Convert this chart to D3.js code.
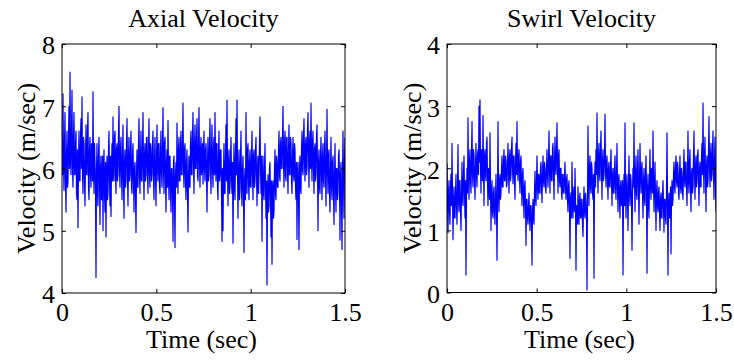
<!DOCTYPE html>
<html>
<head>
<meta charset="utf-8">
<script src="https://cdn.jsdelivr.net/npm/d3@7"></script>
<style>
	body { margin: 0; background: #fff; }
	svg text { font-family: 'Liberation Serif', 'Times New Roman', serif; fill: #000; }
</style>
</head>
<body>
<div id="chart"></div>
<script>
// time axis (sec) and tick labels
const timeSpan = [0, 1.5];
const timeTicks = [0, 0.5, 1, 1.5];
const axialTicks = [4, 5, 6, 7, 8];
const swirlTicks = [0, 1, 2, 3, 4];

// axial velocity samples (m/sec) left to right
const axialVelocity = [
	6.3, 5.9, 7.2, 6.1, 5.65, 6.4, 6.9, 5.8, 5.3, 6.2, 6.6, 5.7, 5.8, 6.5, 7.0, 6.0, 7.55, 6.2, 5.9, 6.6,
	7.26, 6.0, 5.7, 6.5, 6.9, 5.9, 5.9, 6.4, 6.6, 5.6, 5.5, 6.3, 5.05, 6.1, 6.6, 5.8, 5.8, 6.5, 6.8, 6.0,
	7.15, 5.9, 5.6, 6.5, 6.4, 5.8, 5.4, 6.2, 6.7, 5.9, 5.9, 6.6, 6.9, 5.7, 5.5, 6.3, 6.5, 5.9, 5.7, 6.4,
	6.3, 5.8, 7.23, 6.0, 5.6, 6.4, 6.1, 5.7, 4.25, 6.0, 6.4, 5.6, 5.4, 6.2, 6.5, 5.8, 5.1, 6.0, 6.2, 5.5,
	5.5, 6.2, 5.0, 6.0, 6.3, 5.6, 5.3, 6.1, 4.9, 5.9, 6.2, 5.5, 5.6, 6.3, 6.6, 5.8, 5.4, 6.2, 5.23, 6.0,
	6.4, 5.8, 6.83, 6.0, 5.8, 6.5, 6.6, 5.9, 5.6, 6.3, 6.4, 5.8, 5.9, 6.6, 7.0, 6.0, 5.7, 6.3, 6.5, 5.9,
	5.5, 6.2, 6.7, 5.8, 5.2, 6.1, 6.3, 5.7, 5.8, 6.4, 6.8, 5.9, 5.4, 6.2, 6.5, 5.8, 5.9, 6.3, 6.6, 5.7,
	5.6, 6.2, 6.4, 5.8, 5.3, 6.0, 6.1, 5.6, 4.97, 5.9, 6.3, 5.7, 5.7, 6.4, 6.8, 5.9, 5.6, 6.2, 6.6, 5.8,
	5.8, 6.3, 6.9, 6.0, 5.5, 6.2, 6.4, 5.8, 5.9, 6.5, 6.5, 5.9, 5.6, 6.3, 6.8, 5.9, 5.7, 6.4, 6.3, 5.8,
	5.9, 6.4, 6.6, 5.8, 5.5, 6.2, 6.5, 5.9, 5.4, 6.1, 6.7, 6.0, 5.8, 6.4, 6.4, 5.7, 5.6, 6.3, 6.6, 5.9,
	5.7, 6.3, 6.98, 6.0, 5.6, 6.4, 6.5, 5.8, 5.3, 6.1, 6.3, 5.7, 6.77, 5.9, 5.5, 6.2, 6.2, 5.6, 5.3, 6.0,
	6.0, 5.6, 4.83, 6.1, 6.2, 5.5, 4.73, 5.9, 6.1, 5.7, 6.73, 6.0, 5.6, 6.3, 6.5, 5.8, 5.8, 6.4, 6.6, 5.9,
	5.9, 6.4, 7.05, 6.0, 5.7, 6.3, 6.4, 5.8, 5.5, 6.1, 6.3, 5.6, 4.98, 5.9, 6.2, 5.7, 5.7, 6.4, 6.6, 5.9,
	5.9, 6.5, 6.9, 6.1, 5.6, 6.4, 6.7, 6.0, 6.0, 6.5, 6.8, 5.9, 5.8, 6.4, 6.98, 6.1, 5.7, 6.3, 6.5, 5.9,
	6.0, 6.4, 5.75, 6.3, 6.6, 6.0, 5.8, 6.3, 6.4, 5.9, 5.3, 6.1, 6.5, 5.8, 5.9, 6.4, 6.8, 6.0, 5.6, 6.3,
	6.7, 6.0, 5.7, 6.3, 6.5, 5.9, 6.9, 6.1, 5.8, 6.4, 6.4, 5.7, 5.5, 6.2, 6.6, 5.8, 5.9, 6.3, 6.3, 5.6,
	4.83, 6.0, 5.0, 5.9, 6.4, 5.6, 5.6, 6.2, 6.7, 5.8, 7.1, 6.0, 5.4, 6.1, 6.3, 5.6, 5.7, 6.2, 6.5, 5.8,
	5.6, 6.1, 4.8, 5.8, 6.4, 5.7, 5.5, 6.2, 6.8, 5.9, 7.1, 6.0, 5.2, 5.9, 6.3, 5.5, 5.7, 6.2, 6.6, 5.6,
	5.4, 6.0, 6.2, 5.6, 4.65, 5.8, 6.0, 5.5, 6.9, 5.9, 5.6, 6.3, 6.4, 5.8, 5.5, 6.1, 6.3, 5.7, 5.7, 6.2,
	6.6, 5.9, 5.5, 6.2, 6.3, 5.7, 5.8, 6.3, 6.5, 5.9, 5.4, 6.0, 6.2, 5.6, 5.9, 6.4, 6.83, 6.0, 5.6, 6.2,
	4.83, 5.9, 6.2, 5.6, 5.5, 6.0, 6.4, 5.7, 5.2, 5.8, 4.13, 5.6, 5.9, 5.3, 5.4, 6.0, 6.1, 5.5, 4.9, 5.8,
	4.46, 5.7, 5.8, 5.2, 5.3, 6.0, 6.3, 5.6, 5.5, 6.2, 6.1, 5.7, 5.7, 6.3, 6.6, 5.9, 5.8, 6.4, 6.5, 6.0,
	6.0, 6.5, 7.0, 6.1, 5.7, 6.4, 6.6, 5.9, 5.8, 6.5, 6.5, 6.0, 5.6, 6.3, 6.7, 5.9, 5.9, 6.5, 6.4, 5.8,
	5.6, 6.2, 6.5, 5.9, 5.8, 6.4, 6.3, 5.7, 5.5, 6.1, 4.86, 5.9, 6.1, 5.6, 4.7, 6.0, 6.2, 5.7, 5.6, 6.3,
	6.6, 6.0, 5.9, 6.5, 6.8, 6.1, 5.8, 6.4, 6.5, 5.9, 6.0, 6.6, 6.9, 6.2, 5.7, 6.4, 6.6, 6.0, 7.05, 6.2,
	5.8, 6.4, 6.6, 6.0, 5.6, 6.3, 6.4, 5.8, 5.9, 6.5, 6.7, 6.0, 5.0, 6.1, 6.3, 5.7, 5.6, 6.2, 6.5, 5.9,
	5.5, 6.2, 6.4, 5.8, 5.7, 6.3, 6.6, 5.9, 5.4, 6.1, 6.95, 6.0, 5.6, 6.2, 6.3, 5.6, 5.3, 6.0, 6.5, 5.7,
	5.5, 6.1, 6.2, 5.6, 5.1, 5.9, 6.4, 5.7, 5.3, 6.0, 6.0, 5.5, 5.6, 6.2, 6.3, 5.8, 4.85, 5.9, 6.1, 5.5,
	4.7, 5.9, 6.6, 5.8, 5.2, 6.1, 6.5,
];

// swirl velocity samples (m/sec)
const swirlVelocity = [
	2.08, 1.5, 0.96, 1.6, 1.8, 1.3, 1.1, 1.7, 1.9, 1.4, 2.4, 1.6, 0.85, 1.4, 1.7, 1.2, 1.2, 1.6, 1.9, 1.4,
	1.1, 1.6, 2.38, 1.5, 1.3, 1.8, 1.8, 1.3, 1.0, 1.6, 2.1, 1.5, 1.4, 1.9, 2.2, 1.6, 1.2, 1.8, 0.28, 1.6,
	2.0, 1.6, 2.81, 1.9, 1.5, 2.1, 2.3, 1.8, 1.6, 2.2, 2.75, 1.9, 1.7, 2.3, 2.2, 1.8, 1.5, 2.0, 2.4, 1.9,
	1.7, 2.2, 2.3, 1.9, 3.0, 2.1, 3.1, 2.0, 1.6, 2.3, 2.2, 1.8, 2.85, 2.0, 1.4, 2.2, 2.3, 1.9, 1.8, 2.4,
	2.5, 1.8, 1.4, 2.0, 1.9, 1.5, 2.57, 1.7, 1.0, 1.6, 1.8, 1.3, 1.2, 1.6, 1.7, 1.3, 1.1, 1.5, 1.9, 1.4,
	0.52, 1.5, 2.75, 1.6, 1.3, 1.8, 1.9, 1.5, 1.6, 2.0, 2.2, 1.7, 1.7, 2.1, 2.3, 1.8, 1.8, 2.2, 2.1, 1.7,
	1.75, 2.1, 2.4, 1.9, 1.6, 2.2, 2.3, 1.8, 1.9, 2.3, 2.5, 2.0, 1.75, 2.2, 2.2, 1.8, 1.5, 2.1, 2.4, 1.9,
	2.75, 2.0, 1.8, 2.2, 2.3, 1.9, 1.6, 2.1, 2.2, 1.7, 1.4, 1.9, 2.0, 1.5, 1.2, 1.7, 1.8, 1.4, 0.76, 1.5,
	1.5, 1.2, 1.1, 1.4, 1.6, 1.2, 1.0, 1.4, 1.4, 1.1, 0.44, 1.3, 1.5, 1.2, 1.1, 1.6, 1.95, 1.5, 1.4, 1.8,
	2.2, 1.7, 1.5, 1.9, 1.9, 1.6, 1.6, 2.0, 2.1, 1.7, 1.45, 1.9, 2.2, 1.8, 1.7, 2.1, 2.0, 1.7, 1.6, 2.0,
	2.3, 1.9, 1.7, 2.1, 2.6, 2.0, 1.6, 2.2, 2.2, 1.8, 1.8, 2.3, 2.4, 1.9, 1.5, 2.1, 2.5, 2.0, 1.9, 2.3,
	2.73, 2.0, 1.6, 2.2, 2.3, 1.8, 1.7, 2.0, 2.0, 1.6, 1.5, 1.9, 1.9, 1.6, 1.6, 1.9, 2.1, 1.7, 1.5, 1.8,
	1.9, 1.5, 1.3, 1.7, 1.8, 1.4, 0.55, 1.5, 1.6, 1.2, 2.1, 1.5, 1.2, 1.6, 1.7, 1.3, 2.0, 1.5, 0.36, 1.4,
	1.4, 1.1, 1.7, 1.3, 1.1, 1.5, 1.6, 1.2, 1.2, 1.5, 1.5, 1.1, 0.9, 1.4, 1.7, 1.3, 1.2, 1.6, 1.5, 1.2,
	0.04, 1.5, 2.68, 1.8, 1.4, 2.0, 2.2, 1.7, 1.6, 2.1, 2.0, 1.6, 1.5, 1.9, 0.23, 1.8, 2.1, 1.7, 2.3, 1.9,
	2.89, 2.0, 1.6, 2.2, 2.4, 1.9, 1.8, 2.3, 2.6, 2.0, 1.5, 2.1, 2.3, 1.8, 1.9, 2.2, 2.87, 2.0, 1.7, 2.1,
	2.2, 1.8, 1.5, 2.0, 2.1, 1.7, 1.7, 2.0, 2.3, 1.8, 1.4, 1.9, 2.0, 1.6, 1.6, 2.0, 2.2, 1.7, 1.5, 1.9,
	2.4, 1.7, 1.3, 1.8, 1.9, 1.5, 1.2, 1.7, 1.8, 1.4, 1.5, 1.8, 0.28, 1.5, 1.9, 1.4, 2.73, 1.6, 1.2, 1.7,
	1.9, 1.5, 1.0, 1.7, 2.2, 1.6, 1.4, 1.9, 1.8, 1.5, 0.68, 1.6, 2.0, 1.7, 2.73, 1.8, 1.3, 1.9, 2.2, 1.6,
	1.5, 2.0, 2.3, 1.7, 1.1, 1.8, 2.4, 1.9, 1.6, 2.0, 2.1, 1.6, 1.2, 1.8, 2.0, 1.5, 1.4, 1.9, 2.2, 1.7,
	0.31, 1.6, 1.9, 1.4, 1.2, 1.8, 2.3, 1.7, 1.5, 2.0, 2.0, 1.6, 2.6, 1.8, 1.3, 1.7, 2.1, 1.5, 1.0, 1.6,
	1.8, 1.4, 1.3, 1.6, 1.7, 1.3, 1.0, 1.5, 1.6, 1.2, 1.2, 1.6, 1.8, 1.4, 0.97, 1.5, 1.5, 1.2, 1.1, 1.6,
	2.57, 1.5, 0.28, 1.4, 1.6, 1.2, 1.2, 1.7, 0.62, 1.5, 1.8, 1.4, 1.5, 1.9, 2.1, 1.7, 1.6, 2.0, 2.2, 1.8,
	1.7, 2.1, 2.0, 1.6, 1.5, 1.9, 2.2, 1.7, 1.6, 2.0, 1.9, 1.6, 1.5, 2.0, 2.3, 1.8, 1.7, 2.1, 2.1, 1.7,
	1.4, 1.9, 2.6, 1.8, 1.6, 2.1, 2.3, 1.7, 1.3, 1.9, 2.0, 1.6, 1.7, 2.2, 2.6, 1.9, 1.5, 2.0, 2.2, 1.7,
	1.8, 2.2, 2.3, 1.8, 1.4, 2.0, 2.1, 1.7, 1.7, 2.2, 2.4, 1.9, 3.05, 2.0, 1.6, 2.2, 2.5, 1.9, 1.3, 2.0,
	2.2, 1.7, 1.8, 2.3, 2.83, 2.0, 1.7, 2.2, 2.4, 1.8, 1.9, 2.3, 2.6, 1.9, 1.5, 2.1, 2.5, 1.8, 1.3,
];

const width = 734;
const height = 361;

const svg = d3
	.select('#chart')
	.append('svg')
	.attr('width', width)
	.attr('height', height)
	.attr('font-family', "'Liberation Serif', 'Times New Roman', serif");

class VelocityPlot {
	constructor(_config) {
		this.config = {
			title: _config.title,
			values: _config.values,
			yTicks: _config.yTicks,
			box: _config.box,
			yLabelX: _config.yLabelX,
			tickLength: _config.tickLength || 4,
			fontSize: _config.fontSize || 26,
		};
		this.initVis();
	}

	initVis() {
		const { box, values, yTicks, tickLength, fontSize } = this.config;
		const id = this.config.title.replace(/\s/g, '');

		this.x = d3.scaleLinear().domain(timeSpan).range([box.left, box.right]);
		this.y = d3
			.scaleLinear()
			.domain(d3.extent(yTicks))
			.range([box.bottom, box.top]);

		const dt = (timeSpan[1] - timeSpan[0]) / (values.length - 1);

		svg
			.append('clipPath')
			.attr('id', 'clip-' + id)
			.append('rect')
			.attr('x', box.left)
			.attr('y', box.top)
			.attr('width', box.right - box.left)
			.attr('height', box.bottom - box.top);

		svg
			.append('path')
			.datum(values)
			.attr('clip-path', `url(#clip-${id})`)
			.attr('fill', 'none')
			.attr('stroke', '#0000ff')
			.attr('stroke-width', 1.2)
			.attr('stroke-linejoin', 'round')
			.attr(
				'd',
				d3
					.line()
					.x((d, i) => this.x(timeSpan[0] + i * dt))
					.y((d) => this.y(d))
			);

		// ticks point inward on all four sides, like the matlab box
		const bottomAxis = d3
			.axisBottom(this.x)
			.tickValues(timeTicks)
			.tickFormat(d3.format('~g'))
			.tickSizeInner(-tickLength)
			.tickSizeOuter(0)
			.tickPadding(10);
		const topAxis = d3
			.axisTop(this.x)
			.tickValues(timeTicks)
			.tickFormat('')
			.tickSizeInner(-tickLength)
			.tickSizeOuter(0);
		const leftAxis = d3
			.axisLeft(this.y)
			.tickValues(yTicks)
			.tickFormat(d3.format('~g'))
			.tickSizeInner(-tickLength)
			.tickSizeOuter(0)
			.tickPadding(7);
		const rightAxis = d3
			.axisRight(this.y)
			.tickValues(yTicks)
			.tickFormat('')
			.tickSizeInner(-tickLength)
			.tickSizeOuter(0);

		const axes = [
			[bottomAxis, `translate(0,${box.bottom})`, '0.71em'],
			[topAxis, `translate(0,${box.top})`, null],
			[leftAxis, `translate(${box.left},0)`, '0.38em'],
			[rightAxis, `translate(${box.right},0)`, null],
		];
		axes.forEach(([axis, transform, dy]) => {
			const g = svg.append('g').attr('transform', transform).call(axis);
			g.select('.domain').remove();
			g.selectAll('line').attr('stroke', '#000');
			g.attr('font-family', null).attr('font-size', fontSize);
			if (dy) g.selectAll('text').attr('dy', dy);
		});

		svg
			.append('rect')
			.attr('x', box.left)
			.attr('y', box.top)
			.attr('width', box.right - box.left)
			.attr('height', box.bottom - box.top)
			.attr('fill', 'none')
			.attr('stroke', '#000')
			.attr('stroke-width', 1);

		const midX = (box.left + box.right) / 2;

		svg
			.append('text')
			.attr('x', midX)
			.attr('y', 27)
			.attr('text-anchor', 'middle')
			.attr('font-size', fontSize)
			.text(this.config.title);

		svg
			.append('text')
			.attr('x', midX - 2)
			.attr('y', 348)
			.attr('text-anchor', 'middle')
			.attr('font-size', fontSize)
			.text('Time (sec)');

		svg
			.append('text')
			.attr('transform', `translate(${this.config.yLabelX},${(box.top + box.bottom) / 2}) rotate(-90)`)
			.attr('text-anchor', 'middle')
			.attr('font-size', fontSize)
			.text('Velocity (m/sec)');
	}
}

new VelocityPlot({
	title: 'Axial Velocity',
	values: axialVelocity,
	yTicks: axialTicks,
	box: { left: 62, right: 345, top: 44, bottom: 293 },
	yLabelX: 35,
});

new VelocityPlot({
	title: 'Swirl Velocity',
	values: swirlVelocity,
	yTicks: swirlTicks,
	box: { left: 447, right: 716, top: 44, bottom: 292.5 },
	yLabelX: 421,
});
</script>
</body>
</html>
